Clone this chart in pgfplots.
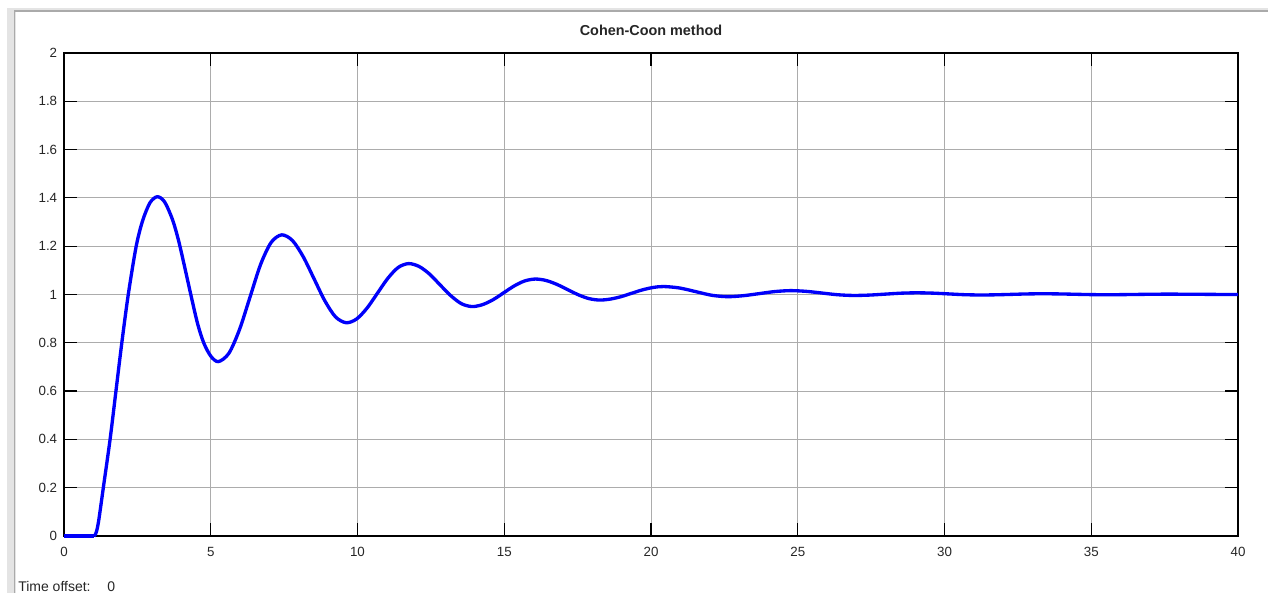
\documentclass[border=0pt]{standalone}
\usepackage{fontspec}
\setmainfont{Liberation Sans}
\usepackage{pgfplots}
\pgfplotsset{compat=1.18}
\definecolor{frameLight}{RGB}{228,228,228}
\definecolor{frameDark}{RGB}{170,170,170}
\definecolor{gridGray}{RGB}{172,172,172}
\definecolor{traceBlue}{RGB}{0,0,250}

\begin{document}
\begin{tikzpicture}
% canvas and scope window frame
\useasboundingbox[fill=white] (-48pt,-42.75pt) rectangle (903pt,402pt);
\fill[frameLight] (-42.75pt,-42.75pt) rectangle (-36pt,396pt);
\fill[frameLight] (-42.75pt,393pt) rectangle (903pt,396pt);
\draw[frameDark, line width=1.1pt] (-37pt,-42.75pt) -- (-37pt,393.6pt) -- (903pt,393.6pt);

\begin{axis}[
  at={(0,0)}, anchor=south west,
  scale only axis,
  width=880.5pt, height=362.25pt,
  xmin=0, xmax=40, ymin=0, ymax=2,
  xtick={0,5,...,40},
  ytick={0,0.2,0.4,0.6,0.8,1,1.2,1.4,1.6,1.8,2},
  yticklabels={0,0.2,0.4,0.6,0.8,1,1.2,1.4,1.6,1.8,2},
  /pgf/number format/assume math mode=true,
  tick label style={font=\fontsize{10}{11}\selectfont, text=black!85},
  xticklabel style={yshift=-5pt},
  yticklabel style={xshift=-1.6pt},
  tick align=inside,
  tick pos=both,
  major tick length=9.5pt,
  every tick/.style={black, line width=0.9pt},
  axis line style={black, line width=1pt},
  grid=major,
  major grid style={gridGray, line width=0.75pt},
  title={Cohen-Coon method},
  title style={at={(0.5,1)}, anchor=base, yshift=6.75pt, inner sep=0pt,
    font=\bfseries\fontsize{10.8}{12}\selectfont, text=black!85},
  clip=false,
]
% dead time before the response starts
\addplot[traceBlue, line width=2.5pt, line join=round] coordinates {(0,0) (1.02,0)};
% closed-loop step response
\addplot[traceBlue, line width=2.5pt, smooth, line join=round] coordinates {
(1.02,0) (1.08,0.0087) (1.14,0.035) (1.2,0.078) (1.34,0.2) (1.57,0.4) (1.77,0.6) (1.97,0.8) (2.19,1.0) (2.46,1.2) (2.68,1.306) (2.93,1.38) (3.18,1.405)
(3.43,1.383) (3.70,1.309) (3.90,1.225) (4.10,1.12) (4.32,1.0) (4.55,0.88) (4.76,0.8) (5.0,0.745) (5.26,0.722)
(5.62,0.757) (5.98,0.855) (6.34,0.99) (6.70,1.125) (7.06,1.216) (7.42,1.247)
(7.787,1.223) (8.153,1.156) (8.52,1.065) (8.887,0.974) (9.253,0.907) (9.62,0.883)
(9.973,0.899) (10.327,0.944) (10.68,1.0055) (11.033,1.067) (11.387,1.112) (11.74,1.128)
(12.10,1.116) (12.46,1.084) (12.82,1.039) (13.18,0.995) (13.54,0.962) (13.9,0.950)
(14.26,0.958) (14.62,0.9785) (14.98,1.007) (15.34,1.0355) (15.70,1.0563) (16.06,1.064)
(16.425,1.058) (16.79,1.042) (17.155,1.0205) (17.52,0.999) (17.885,0.983) (18.25,0.977)
(18.613,0.981) (18.977,0.991) (19.34,1.005) (19.703,1.019) (20.067,1.029) (20.43,1.033)
(20.97,1.027) (21.52,1.012) (22.06,0.997) (22.6,0.991)
(23.14,0.995) (23.68,1.0035) (24.21,1.012) (24.75,1.016)
(25.29,1.013) (25.83,1.006) (26.36,0.999) (26.9,0.996)
(27.44,0.9976) (27.98,1.0015) (28.51,1.0054) (29.05,1.007)
(29.59,1.0057) (30.13,1.0025) (30.66,0.9993) (31.2,0.998)
(31.74,0.9987) (32.28,1.0005) (32.81,1.0023) (33.35,1.003)
(33.89,1.0024) (34.43,1.001) (34.96,0.9996) (35.5,0.999)
(36.04,0.9994) (36.58,1.0003) (37.11,1.0011) (37.65,1.0015)
(38.5,1.001) (39.3,1.0003) (40,1.0)
};
\end{axis}

\node[anchor=west, inner sep=0pt, font=\fontsize{10.5}{12}\selectfont, text=black!85]
  at (-34.5pt,-37.5pt) {Time offset:\hspace{1.2em}0};
\end{tikzpicture}
\end{document}
